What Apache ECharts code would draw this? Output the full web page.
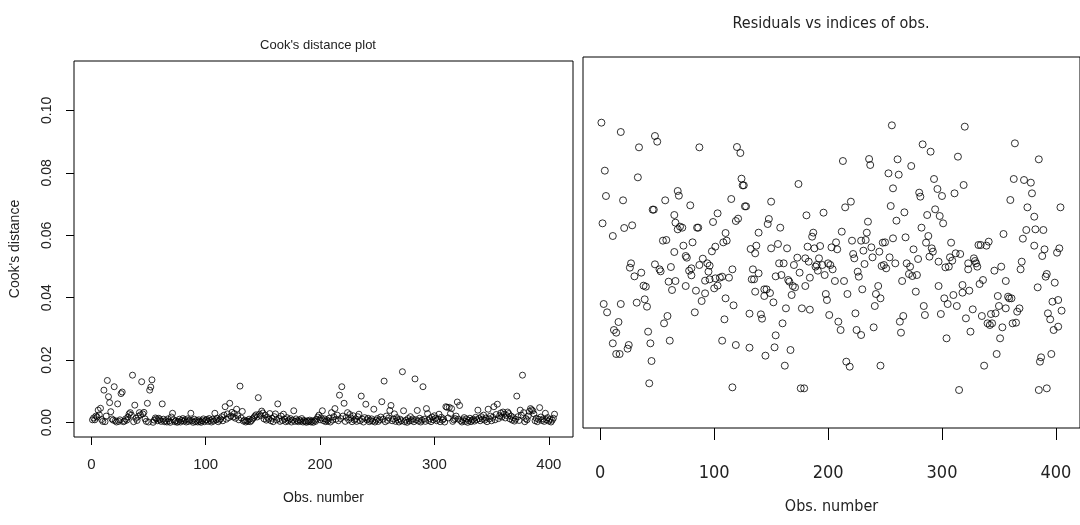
<!DOCTYPE html>
<html>
<head>
<meta charset="utf-8">
<script src="https://cdn.jsdelivr.net/npm/echarts@6/dist/echarts.min.js"></script>
<style>
    html, body { margin: 0; padding: 0; background: #fff; }
    #chart { width: 1080px; height: 525px; }
</style>
</head>
<body>
<div id="chart"></div>
<script>
// Cook's distance for obs. 1..405
const cookDist = [
    0.0009, 0.0015, 0.0009, 0.0021, 0.0018, 0.0040, 0.0025, 0.0046, 0.0010, 0.0004, 0.0104, 0.0003, 0.0021, 0.0135, 0.0083, 0.0064, 0.0035, 0.0012, 0.0008, 0.0115,
    0.0006, 0.0002, 0.0060, 0.0004, 0.0009, 0.0093, 0.0098, 0.0003, 0.0005, 0.0012, 0.0008, 0.0018, 0.0028, 0.0032, 0.0024, 0.0152, 0.0003, 0.0056, 0.0014, 0.0007,
    0.0020, 0.0032, 0.0025, 0.0131, 0.0028, 0.0033, 0.0012, 0.0004, 0.0062, 0.0002, 0.0104, 0.0114, 0.0137, 0.0001, 0.0008, 0.0015, 0.0012, 0.0006, 0.0014, 0.0009,
    0.0004, 0.0060, 0.0011, 0.0003, 0.0007, 0.0002, 0.0012, 0.0005, 0.0001, 0.0018, 0.0030, 0.0009, 0.0003, 0.0006, 0.0001, 0.0004, 0.0011, 0.0002, 0.0007, 0.0013,
    0.0005, 0.0009, 0.0002, 0.0012, 0.0004, 0.0008, 0.0030, 0.0006, 0.0001, 0.0011, 0.0003, 0.0007, 0.0002, 0.0009, 0.0004, 0.0001, 0.0006, 0.0012, 0.0003, 0.0008,
    0.0010, 0.0004, 0.0013, 0.0007, 0.0002, 0.0011, 0.0005, 0.0030, 0.0009, 0.0014, 0.0003, 0.0008, 0.0012, 0.0019, 0.0006, 0.0024, 0.0051, 0.0011, 0.0028, 0.0016,
    0.0062, 0.0021, 0.0033, 0.0018, 0.0029, 0.0014, 0.0043, 0.0022, 0.0009, 0.0117, 0.0015, 0.0036, 0.0005, 0.0008, 0.0002, 0.0006, 0.0004, 0.0011, 0.0003, 0.0007,
    0.0012, 0.0016, 0.0021, 0.0025, 0.0018, 0.0080, 0.0027, 0.0022, 0.0037, 0.0031, 0.0012, 0.0024, 0.0008, 0.0017, 0.0011, 0.0029, 0.0006, 0.0014, 0.0003, 0.0019,
    0.0028, 0.0009, 0.0060, 0.0013, 0.0004, 0.0021, 0.0007, 0.0027, 0.0011, 0.0003, 0.0016, 0.0005, 0.0009, 0.0013, 0.0002, 0.0008, 0.0038, 0.0004, 0.0012, 0.0006,
    0.0003, 0.0009, 0.0005, 0.0013, 0.0002, 0.0007, 0.0004, 0.0001, 0.0006, 0.0003, 0.0008, 0.0002, 0.0005, 0.0001, 0.0007, 0.0004, 0.0011, 0.0018, 0.0024, 0.0009,
    0.0015, 0.0038, 0.0006, 0.0012, 0.0003, 0.0009, 0.0005, 0.0014, 0.0002, 0.0032, 0.0008, 0.0019, 0.0045, 0.0011, 0.0024, 0.0006, 0.0088, 0.0013, 0.0115, 0.0021,
    0.0062, 0.0004, 0.0017, 0.0032, 0.0009, 0.0026, 0.0015, 0.0003, 0.0022, 0.0008, 0.0012, 0.0004, 0.0019, 0.0027, 0.0006, 0.0085, 0.0011, 0.0002, 0.0016, 0.0059,
    0.0009, 0.0014, 0.0003, 0.0007, 0.0012, 0.0005, 0.0043, 0.0002, 0.0008, 0.0013, 0.0004, 0.0009, 0.0018, 0.0067, 0.0011, 0.0133, 0.0003, 0.0021, 0.0007, 0.0015,
    0.0039, 0.0055, 0.0006, 0.0012, 0.0028, 0.0004, 0.0016, 0.0009, 0.0002, 0.0011, 0.0006, 0.0163, 0.0038, 0.0003, 0.0008, 0.0001, 0.0013, 0.0005, 0.0019, 0.0007,
    0.0012, 0.0003, 0.0140, 0.0009, 0.0039, 0.0005, 0.0014, 0.0002, 0.0008, 0.0115, 0.0011, 0.0004, 0.0045, 0.0029, 0.0007, 0.0013, 0.0003, 0.0018, 0.0009, 0.0022,
    0.0014, 0.0006, 0.0011, 0.0027, 0.0003, 0.0017, 0.0008, 0.0012, 0.0002, 0.0051, 0.0049, 0.0015, 0.0049, 0.0029, 0.0045, 0.0004, 0.0009, 0.0013, 0.0021, 0.0066,
    0.0011, 0.0055, 0.0006, 0.0002, 0.0009, 0.0016, 0.0004, 0.0012, 0.0001, 0.0007, 0.0014, 0.0003, 0.0008, 0.0011, 0.0005, 0.0017, 0.0009, 0.0040, 0.0013, 0.0006,
    0.0019, 0.0011, 0.0024, 0.0008, 0.0015, 0.0003, 0.0043, 0.0012, 0.0021, 0.0006, 0.0017, 0.0051, 0.0009, 0.0026, 0.0059, 0.0013, 0.0022, 0.0031, 0.0018, 0.0034,
    0.0027, 0.0015, 0.0023, 0.0034, 0.0029, 0.0012, 0.0021, 0.0008, 0.0016, 0.0005, 0.0011, 0.0085, 0.0019, 0.0007, 0.0040, 0.0024, 0.0152, 0.0032, 0.0003, 0.0013,
    0.0009, 0.0021, 0.0036, 0.0045, 0.0041, 0.0038, 0.0028, 0.0006, 0.0014, 0.0003, 0.0011, 0.0048, 0.0018, 0.0007, 0.0012, 0.0004, 0.0030, 0.0009, 0.0016, 0.0005,
    0.0011, 0.0002, 0.0008, 0.0014, 0.0027,
];

// residuals (right panel): [obs. number, residual], y units are arbitrary (no labels shown)
const residPoints = [
    [1, 4.32], [4, 2.88], [5, 2.12], [2, 1.30], [11, 0.92], [3, -1.12], [6, -1.37], [12, -1.90], [14, -1.98], [16, -1.66],
    [11, -2.30], [14, -2.62], [17, -2.62], [18, -1.12], [18, 4.04], [20, 1.99], [21, 1.16], [28, 1.24], [27, 0.10], [26, -0.03],
    [30, -0.29], [32, -1.08], [24, -2.46], [25, -2.35], [33, 2.68], [34, 3.58], [36, -0.18], [38, -0.57], [40, -0.60], [39, -0.98],
    [41, -1.20], [42, -1.95], [44, -2.30], [45, -2.83], [43, -3.50], [46, 1.71], [47, 1.71], [48, 3.92], [50, 3.75], [48, 0.07],
    [52, -0.08], [53, -0.14], [55, 0.78], [58, 0.80], [57, 1.99], [62, -0.01], [60, -0.45], [63, -0.70], [56, -1.70], [59, -1.48],
    [61, -2.22], [65, 1.55], [65, 0.44], [66, -0.43], [66, 1.32], [68, 2.27], [69, 2.13], [68, 1.12], [70, 1.20], [72, 1.17],
    [73, 0.63], [75, 0.32], [76, 0.27], [75, -0.58], [79, 1.84], [78, -0.12], [80, -0.05], [81, 0.73], [80, -0.26], [84, -0.72],
    [83, -1.37], [85, 1.17], [86, 1.17], [87, 3.58], [87, 0.05], [90, 0.24], [89, -1.03], [92, -0.80], [92, -0.42], [94, 0.10],
    [95, -0.15], [96, 0.03], [96, -0.38], [98, 0.46], [99, 1.34], [100, -0.65], [101, 0.60], [103, 1.60], [101, -0.35], [103, -0.57],
    [105, -0.33], [107, -0.30], [108, 0.73], [110, 1.01], [111, 0.78], [110, -0.95], [109, -1.58], [107, -2.22], [113, -0.33], [116, -0.08],
    [115, 2.03], [117, -1.16], [116, -3.62], [119, -2.35], [119, 1.37], [121, 1.44], [120, 3.59], [123, 3.41], [124, 2.64], [125, 2.44],
    [126, 2.44], [127, 1.81], [128, 1.81], [131, -1.41], [131, -2.43], [132, 0.53], [134, -0.08], [133, -0.38], [135, -0.38], [136, 0.40],
    [137, 0.63], [136, -0.75], [139, -0.20], [139, 1.02], [141, -1.43], [142, -1.56], [144, -0.68], [144, -0.88], [145, -2.67], [146, -0.68],
    [147, 1.28], [148, 1.43], [149, -0.79], [150, 0.55], [150, 1.95], [152, -1.07], [153, -2.42], [154, -2.06], [154, -0.29], [156, 0.68],
    [157, 0.10], [158, 1.17], [159, -0.25], [160, -1.70], [161, 0.10], [162, -2.97], [163, -1.25], [164, 0.55], [165, -0.40], [166, -0.45],
    [167, -2.50], [168, -0.85], [169, -0.58], [170, 0.05], [171, -0.62], [173, 0.27], [174, 2.48], [175, -0.18], [177, -1.25], [176, -3.65],
    [179, -3.65], [180, -0.58], [180, 0.25], [181, 1.54], [182, 0.60], [183, 0.15], [184, -1.29], [184, -0.33], [186, 0.90], [187, 1.02],
    [188, 0.55], [189, 0.00], [190, 0.05], [191, -0.12], [192, 0.25], [193, 0.62], [195, 0.05], [196, 1.62], [197, -0.25], [198, -0.82],
    [199, -1.00], [200, 0.10], [201, -1.45], [202, 0.05], [203, 0.58], [204, -0.08], [206, -0.43], [207, 0.73], [208, 0.52], [209, -1.65],
    [211, -1.90], [212, 1.05], [213, 3.17], [214, -0.43], [215, 1.78], [216, -2.85], [217, -0.82], [219, -3.00], [220, 1.95], [221, 0.78],
    [222, 0.38], [223, 0.25], [224, -1.40], [225, -1.90], [226, -0.15], [227, -0.30], [229, -2.05], [229, 0.78], [230, -0.68], [231, 0.48],
    [232, 0.08], [233, 0.80], [234, 1.02], [235, 1.35], [236, 3.23], [237, 3.05], [238, 0.58], [239, 0.28], [240, -1.82], [241, -1.18],
    [242, -0.82], [244, -0.58], [245, 0.45], [246, -0.95], [246, -2.97], [247, 0.02], [248, 0.72], [249, 0.05], [250, 0.73], [251, -0.05],
    [253, 2.80], [254, 0.28], [255, 1.82], [256, 4.24], [257, 0.85], [257, 2.35], [259, 0.10], [260, 1.38], [261, 3.22], [262, 2.76],
    [263, -1.65], [264, -1.98], [265, -0.43], [266, -1.48], [267, 1.63], [268, 0.88], [269, 0.10], [271, -0.22], [272, 0.00], [273, 3.02],
    [274, -0.28], [275, 0.52], [277, -0.75], [278, -0.25], [279, 0.23], [280, 2.22], [281, 2.10], [282, 1.17], [283, 3.67], [284, -1.18],
    [285, -1.45], [286, 0.72], [287, 1.55], [288, 0.92], [289, 0.30], [290, 3.45], [291, 0.55], [292, 0.45], [293, 2.63], [294, 1.72],
    [296, 2.33], [297, 0.15], [297, -0.58], [298, 1.52], [299, -1.42], [300, 2.12], [301, 1.30], [302, -0.95], [303, -0.02], [304, -2.15],
    [305, -1.12], [306, 0.00], [307, 0.28], [308, 0.72], [309, 0.18], [310, -0.85], [311, 2.20], [312, 0.40], [313, -1.18], [314, 3.30],
    [315, -3.70], [316, 0.38], [318, -0.78], [318, -0.55], [319, 2.45], [320, 4.20], [321, -1.55], [323, -0.08], [323, 0.10], [324, -0.72],
    [325, -1.95], [327, -1.28], [328, 0.25], [329, 0.17], [330, 0.10], [331, 0.00], [332, 0.65], [333, -0.52], [334, 0.65], [335, -1.48],
    [336, -0.40], [337, -2.97], [339, 0.63], [340, -1.70], [341, 0.75], [342, -1.75], [343, -1.42], [344, -1.70], [346, -0.12], [347, -1.40],
    [348, -2.62], [349, -0.88], [350, -1.18], [351, -2.15], [352, 0.00], [353, -1.82], [354, 0.98], [356, -0.43], [356, -1.25], [358, -0.90],
    [359, -0.95], [360, 2.00], [361, -0.95], [362, -1.70], [363, 2.63], [364, 3.70], [365, -1.68], [366, -1.35], [368, -1.25], [369, -0.08],
    [370, 0.15], [371, 0.84], [372, 2.60], [374, 1.10], [375, 1.78], [378, 2.52], [379, 2.20], [381, 0.63], [381, 1.50], [382, 1.12],
    [384, -0.62], [385, 3.22], [386, -2.85], [387, -2.72], [385, -3.70], [392, -3.65], [388, 0.32], [389, 1.10], [390, 0.52], [391, -0.30],
    [392, -0.22], [393, -1.40], [395, -1.58], [396, -2.62], [397, -1.05], [398, -1.90], [399, -0.48], [401, 0.42], [402, -1.80], [402, -1.00],
    [403, 0.55], [404, 1.78], [405, -1.32],
];

const obsTicks = [0, 100, 200, 300, 400];
const cookTicks = [0, 0.02, 0.04, 0.06, 0.08, 0.10];

const sansFont = "'Liberation Sans', Arial, sans-serif";
const narrowFont = "'Liberation Sans Narrow', 'Arial Narrow', 'DejaVu Sans Condensed', 'Liberation Sans', sans-serif";

const circleStyle = {
    color: 'rgba(0,0,0,0)',
    borderColor: '#000',
    borderWidth: 1,
};

const option = {
    backgroundColor: '#fff',
    animation: false,
    title: [
        {
            text: "Cook's distance plot",
            left: 313,
            top: 34,
            textAlign: 'center',
            textStyle: { fontSize: 13, fontWeight: 'normal', color: '#222', fontFamily: sansFont },
        },
        {
            text: 'Residuals vs indices of obs.',
            left: 826,
            top: 11,
            textAlign: 'center',
            textStyle: { fontSize: 16, fontWeight: 'normal', color: '#222', fontFamily: narrowFont },
        },
    ],
    grid: [
        { left: 74, right: 507, top: 61, bottom: 88, show: true, borderColor: '#000', borderWidth: 1 },
        { left: 583, right: -3, top: 57, bottom: 97, show: true, borderColor: '#000', borderWidth: 1 },
    ],
    xAxis: [
        {
            type: 'value',
            gridIndex: 0,
            min: -15.16,
            max: 421.16,
            splitLine: { show: false },
            axisLine: { show: false, onZero: false },
            axisTick: { show: true, customValues: obsTicks, length: 8, lineStyle: { color: '#000' } },
            axisLabel: { customValues: obsTicks, fontSize: 15, color: '#222', margin: 20, fontFamily: sansFont },
            name: 'Obs. number',
            nameLocation: 'middle',
            nameGap: 54,
            nameTextStyle: { fontSize: 14, color: '#222', fontFamily: sansFont },
        },
        {
            type: 'value',
            gridIndex: 1,
            min: -15.16,
            max: 421.16,
            splitLine: { show: false },
            axisLine: { show: false, onZero: false },
            axisTick: { show: true, customValues: obsTicks, length: 12, lineStyle: { color: '#000' } },
            axisLabel: { customValues: obsTicks, fontSize: 18, color: '#222', margin: 36, fontFamily: narrowFont },
            name: 'Obs. number',
            nameLocation: 'middle',
            nameGap: 71,
            nameTextStyle: { fontSize: 16, color: '#222', fontFamily: narrowFont },
        },
    ],
    yAxis: [
        {
            type: 'value',
            gridIndex: 0,
            min: -0.0046,
            max: 0.1158,
            splitLine: { show: false },
            axisLine: { show: false, onZero: false },
            axisTick: { show: true, customValues: cookTicks, length: 8, lineStyle: { color: '#000' } },
            axisLabel: {
                customValues: cookTicks,
                rotate: 90,
                fontSize: 14,
                color: '#222',
                margin: 20,
                fontFamily: sansFont,
                formatter: (v) => v.toFixed(2),
            },
            name: "Cook's distance",
            nameLocation: 'middle',
            nameGap: 52,
            nameRotate: 90,
            nameTextStyle: { fontSize: 14, color: '#222', fontFamily: sansFont },
        },
        {
            type: 'value',
            gridIndex: 1,
            min: -4.84,
            max: 6.29,
            splitLine: { show: false },
            axisLine: { show: false, onZero: false },
            axisTick: { show: false },
            axisLabel: { show: false },
        },
    ],
    series: [
        {
            name: "Cook's distance",
            type: 'scatter',
            xAxisIndex: 0,
            yAxisIndex: 0,
            symbol: 'circle',
            symbolSize: 6,
            itemStyle: circleStyle,
            emphasis: { disabled: true },
            data: cookDist.map((v, i) => [i + 1, v]),
        },
        {
            name: 'Residuals',
            type: 'scatter',
            xAxisIndex: 1,
            yAxisIndex: 1,
            symbol: 'circle',
            symbolSize: 7,
            itemStyle: circleStyle,
            emphasis: { disabled: true },
            data: residPoints,
        },
    ],
};

const chart = echarts.init(document.getElementById('chart'));
chart.setOption(option);
</script>
</body>
</html>
